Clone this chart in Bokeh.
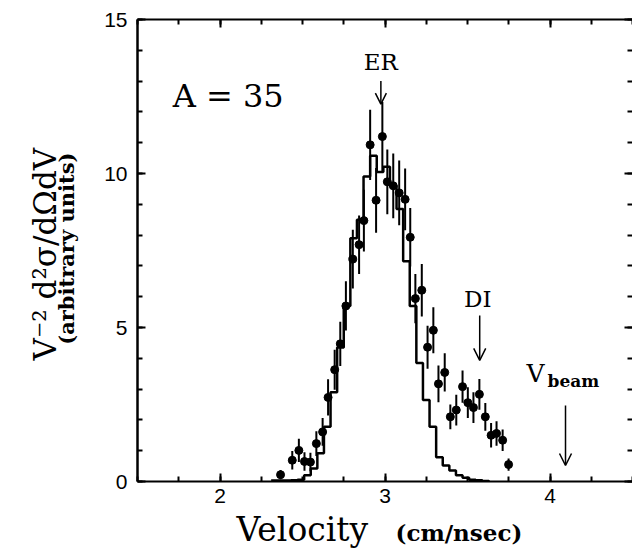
import numpy as np
from bokeh.plotting import figure
from bokeh.layouts import column, row
from bokeh.models import Range1d, SingleIntervalTicker, LinearAxis, Label, Arrow, OpenHead
from bokeh.embed import file_html
from bokeh.resources import INLINE

# ---- data ----
velocity = [2.367, 2.438, 2.478, 2.512, 2.548, 2.584, 2.622, 2.655, 2.695, 2.729,
            2.763, 2.805, 2.843, 2.872, 2.910, 2.946, 2.984, 3.014, 3.050, 3.086,
            3.122, 3.153, 3.184, 3.223, 3.258, 3.293, 3.324, 3.362, 3.396, 3.432,
            3.470, 3.502, 3.536, 3.572, 3.608, 3.643, 3.676, 3.713, 3.749]
cross = [0.22, 0.69, 1.01, 0.65, 0.63, 1.23, 1.61, 2.73, 3.63, 4.47,
         5.70, 7.22, 7.69, 8.47, 10.93, 9.13, 11.20, 9.73, 9.60, 9.37,
         9.16, 7.93, 5.94, 6.21, 4.36, 4.91, 3.17, 3.54, 2.10, 2.32,
         3.08, 2.56, 2.40, 2.83, 2.10, 1.50, 1.56, 1.34, 0.55]
cross_err = [0.15, 0.30, 0.38, 0.30, 0.30, 0.40, 0.45, 0.59, 0.65, 0.72,
             0.80, 0.95, 0.95, 1.00, 1.14, 1.05, 1.12, 1.05, 1.05, 1.05,
             1.00, 0.95, 0.80, 0.85, 0.70, 0.75, 0.60, 0.62, 0.40, 0.50,
             0.52, 0.50, 0.50, 0.50, 0.45, 0.40, 0.40, 0.35, 0.20]

hist_edges = [2.31, 2.35, 2.39, 2.43, 2.47, 2.51, 2.55, 2.59, 2.63, 2.67,
              2.71, 2.75, 2.79, 2.83, 2.87, 2.91, 2.95, 2.99, 3.03, 3.07,
              3.11, 3.15, 3.19, 3.23, 3.27, 3.31, 3.35, 3.39, 3.43, 3.47,
              3.51, 3.55, 3.59, 3.63]
hist_vals = [0.03, 0.03, 0.03, 0.04, 0.06, 0.20, 0.42, 0.92, 1.78, 2.90,
             4.35, 5.70, 7.90, 8.50, 9.90, 10.58, 10.05, 10.22, 9.60, 8.85,
             7.15, 5.70, 3.85, 2.65, 1.78, 0.79, 0.52, 0.36, 0.20, 0.12,
             0.06, 0.04, 0.02]

x_tick_labels = {2: "2", 3: "3", 4: "4"}
y_tick_labels = {0: "0", 5: "5", 10: "10", 15: "15"}

ER_V = 2.975
DI_V = 3.574
VBEAM_V = 4.094

SERIF = "DejaVu Serif"
SANS = "Liberation Sans"

W, H = 632, 554
LEFT_W = 100     # strip holding the y-axis title
MAIN_H = 512     # main plot height
BOT_H = H - MAIN_H


def blank(fig):
    fig.outline_line_color = None
    fig.xgrid.grid_line_color = None
    fig.ygrid.grid_line_color = None
    fig.background_fill_color = "white"
    fig.border_fill_color = "white"


p = figure(width=W - LEFT_W, height=MAIN_H, x_range=Range1d(1.5, 4.5), y_range=Range1d(0, 15),
           output_backend="svg", toolbar_location=None,
           min_border_left=37, min_border_right=0, min_border_top=19, min_border_bottom=31)
blank(p)

p.add_layout(LinearAxis(), "above")
p.add_layout(LinearAxis(), "right")

for ax in p.xaxis:
    ax.ticker = SingleIntervalTicker(interval=1, num_minor_ticks=4)
for ax in p.yaxis:
    ax.ticker = SingleIntervalTicker(interval=5, num_minor_ticks=5)

for ax in p.xaxis + p.yaxis:
    ax.axis_line_width = 2
    ax.axis_line_color = "black"
    ax.major_tick_line_width = 2
    ax.minor_tick_line_width = 2
    ax.major_tick_in = 8
    ax.major_tick_out = 0
    ax.minor_tick_in = 5
    ax.minor_tick_out = 0
    ax.major_label_text_font = SANS
    ax.major_label_text_font_size = "21px"
    ax.major_label_text_color = "black"
    ax.major_label_standoff = 10

p.below[0].major_label_standoff = 7
p.left[0].axis_line_width = 2.5
p.below[0].major_label_overrides = x_tick_labels
p.left[0].major_label_overrides = y_tick_labels
p.above[0].major_label_overrides = {k: "" for k in x_tick_labels}
p.above[0].major_label_standoff = 0
p.right[0].major_label_overrides = {k: "" for k in y_tick_labels}
p.right[0].major_label_standoff = 0
p.right[0].axis_line_color = None

# histogram (calculation)
p.step(x=hist_edges, y=hist_vals + [0.0], mode="after", line_color="black", line_width=2.5)

# data with error bars
v = np.array(velocity)
c = np.array(cross)
e = np.array(cross_err)
p.segment(x0=v, y0=c - e, x1=v, y1=c + e, line_color="black", line_width=2)
p.scatter(v, c, size=8, color="black")

# annotations
p.add_layout(Label(x=1.713, y=12.53, text="A = 35", text_font=SERIF, text_font_size="32px",
                   text_align="left", text_baseline="alphabetic", text_color="black"))
p.add_layout(Label(x=ER_V, y=13.61, text="ER", text_font=SERIF, text_font_size="23px",
                   text_align="center", text_baseline="alphabetic", text_color="black"))
p.add_layout(Arrow(x_start=ER_V, y_start=13.0, x_end=ER_V, y_end=12.25,
                   end=OpenHead(size=11, line_width=1.5), line_width=1.5))
p.add_layout(Label(x=3.562, y=5.93, text="DI", text_font=SERIF, text_font_size="23px",
                   text_align="center", text_baseline="alphabetic", text_color="black"))
p.add_layout(Arrow(x_start=DI_V, y_start=5.39, x_end=DI_V, y_end=3.93,
                   end=OpenHead(size=12, line_width=1.5), line_width=1.5))
p.add_layout(Label(x=3.858, y=3.50, text="V", text_font=SERIF, text_font_size="25px",
                   text_align="left", text_baseline="alphabetic", text_color="black"))
p.add_layout(Label(x=3.985, y=3.25, text="beam", text_font=SERIF, text_font_size="17px",
                   text_font_style="bold", text_align="left", text_baseline="alphabetic",
                   text_color="black"))
p.add_layout(Arrow(x_start=VBEAM_V, y_start=2.47, x_end=VBEAM_V, y_end=0.52,
                   end=OpenHead(size=12, line_width=1.5), line_width=1.5))

# ---- y-axis title strip (pixel coordinates) ----
ylab = figure(width=LEFT_W, height=MAIN_H, x_range=Range1d(0, LEFT_W), y_range=Range1d(0, MAIN_H),
              output_backend="svg", toolbar_location=None, x_axis_location=None,
              y_axis_location=None, min_border=0, min_border_left=0, min_border_right=0,
              min_border_top=0, min_border_bottom=0)
blank(ylab)
ylab.add_layout(Label(x=44, y=MAIN_H - 260, text="V\u207b\u00b2 d\u00b2\u03c3/d\u03a9dV",
                      text_font=SERIF, text_font_size="31px", angle=np.pi / 2,
                      text_align="center", text_baseline="alphabetic", text_color="black"))
ylab.add_layout(Label(x=65.5, y=MAIN_H - 254, text="(arbitrary units)", text_font=SERIF,
                      text_font_size="21px", text_font_style="bold", angle=np.pi / 2,
                      text_align="center", text_baseline="alphabetic", text_color="black"))

# ---- x-axis title strip (pixel coordinates) ----
xlab = figure(width=W, height=BOT_H, x_range=Range1d(0, W), y_range=Range1d(0, BOT_H),
              output_backend="svg", toolbar_location=None, x_axis_location=None,
              y_axis_location=None, min_border=0, min_border_left=0, min_border_right=0,
              min_border_top=0, min_border_bottom=0)
blank(xlab)
xlab.add_layout(Label(x=236, y=25, text="Velocity", text_font=SERIF,
                      text_font_size="33px", text_align="left", text_baseline="alphabetic",
                      text_color="black"))
xlab.add_layout(Label(x=395, y=22, text="(cm/nsec)", text_font=SERIF,
                      text_font_size="23px", text_font_style="bold", text_align="left",
                      text_baseline="alphabetic", text_color="black"))

layout = column(row(ylab, p, spacing=0), xlab, spacing=0)
open("out.html", "w").write(file_html(layout, INLINE))
